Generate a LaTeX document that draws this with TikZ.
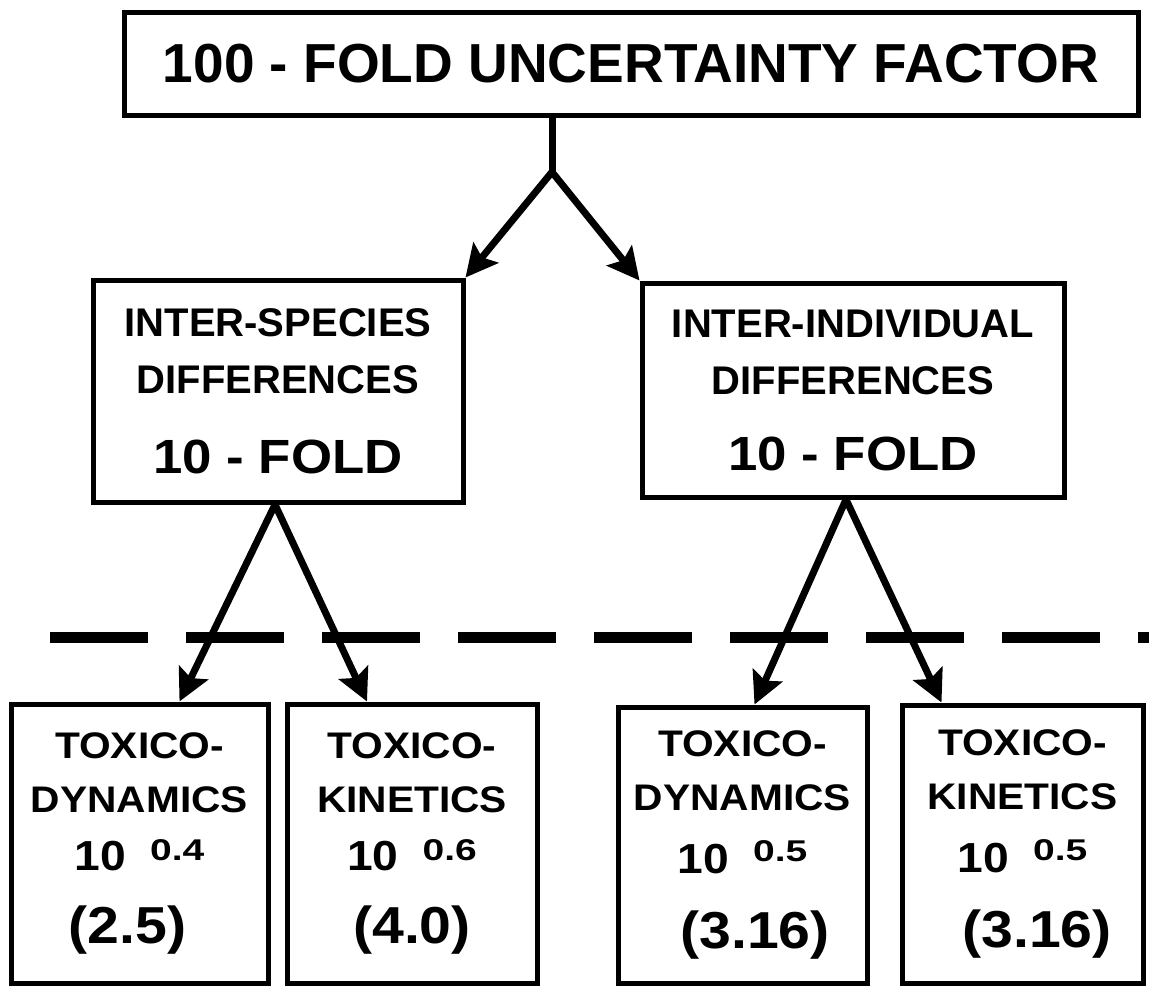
\documentclass[tikz,border=0pt]{standalone}
\usepackage{fontspec}
\setmainfont{Liberation Sans}
\newfontfamily\widefont{Liberation Sans}[FakeStretch=1.1]
\newfontfamily\powfont{Liberation Sans}[FakeStretch=1.3]
\usetikzlibrary{arrows.meta}

\begin{document}
\begin{tikzpicture}[x=1pt,y=-1pt,
   box/.style={draw,line width=5pt,inner sep=0pt,align=center},
   midbox/.style={box,font=\bfseries\fontsize{40}{57}\selectfont},
   lowbox/.style={box,font=\widefont\bfseries\fontsize{37}{54}\selectfont,minimum height=279pt},
   arrow/.style={line width=7pt,-{Stealth[length=32pt,width=32pt,inset=6pt]}},
   dashline/.style={line width=11pt,dash pattern=on 98pt off 38pt}]
\useasboundingbox (0,0) rectangle (1149,986);
\node[box,minimum width=1014pt,minimum height=103pt,font=\bfseries\fontsize{55}{64}\selectfont]
  (uf) at (631,63.5) {100 - FOLD UNCERTAINTY FACTOR};
\node[midbox,minimum width=370pt,minimum height=222pt] (species) at (278,391)
  {INTER-SPECIES\\DIFFERENCES\\[23pt]{\widefont\fontsize{48}{57}\selectfont 10 - FOLD}};
\node[midbox,minimum width=422pt,minimum height=214pt] (individual) at (853,390)
  {INTER-INDIVIDUAL\\DIFFERENCES\\[19pt]{\widefont\fontsize{48}{57}\selectfont 10 - FOLD}};
\node[lowbox,minimum width=257pt] (sdyn) at (139.5,843.5)
  {TOXICO-\\DYNAMICS\\[4pt]{\fontsize{42}{54}\selectfont 10\hspace{24pt}\raisebox{10pt}{\powfont\fontsize{30}{30}\selectfont 0.4}}\\[19pt]{\fontsize{52}{54}\selectfont\hspace*{-24pt}(2.5)}};
\node[lowbox,minimum width=250pt] (skin) at (412,843.5)
  {TOXICO-\\KINETICS\\[4pt]{\fontsize{42}{54}\selectfont 10\hspace{24pt}\raisebox{10pt}{\powfont\fontsize{30}{30}\selectfont 0.6}}\\[19pt]{\fontsize{52}{54}\selectfont (4.0)}};
\node[lowbox,minimum width=249pt,minimum height=276pt] (idyn) at (742.5,845)
  {TOXICO-\\DYNAMICS\\[9pt]{\fontsize{42}{54}\selectfont 10\hspace{24pt}\raisebox{12pt}{\powfont\fontsize{30}{30}\selectfont 0.5}}\\[21pt]{\fontsize{52}{54}\selectfont\hspace*{25pt}(3.16)}};
\node[lowbox,minimum width=241pt,minimum height=278pt] (ikin) at (1022.5,844)
  {TOXICO-\\KINETICS\\[9pt]{\fontsize{42}{54}\selectfont 10\hspace{24pt}\raisebox{12pt}{\powfont\fontsize{30}{30}\selectfont 0.5}}\\[21pt]{\fontsize{52}{54}\selectfont\hspace*{29pt}(3.16)}};
\coordinate (fork) at (552,172);
\coordinate (dl) at (50,637);
\coordinate (dr) at (1149,637);
\draw[dashline] (dl) -- (dr);
\draw[line width=7pt] (fork |- uf.south) -- (fork);
\draw[arrow] (fork) -- (species.north east);
\draw[arrow] (fork) -- (individual.north west);
\draw[arrow] ([xshift=-3pt]species.south) -- ([xshift=40pt]sdyn.north);
\draw[arrow] ([xshift=-3pt]species.south) -- ([xshift=-45pt]skin.north);
\draw[arrow] ([xshift=-7pt]individual.south) -- ([xshift=12pt]idyn.north);
\draw[arrow] ([xshift=-7pt]individual.south) -- ([xshift=-81pt]ikin.north);
\end{tikzpicture}
\end{document}
